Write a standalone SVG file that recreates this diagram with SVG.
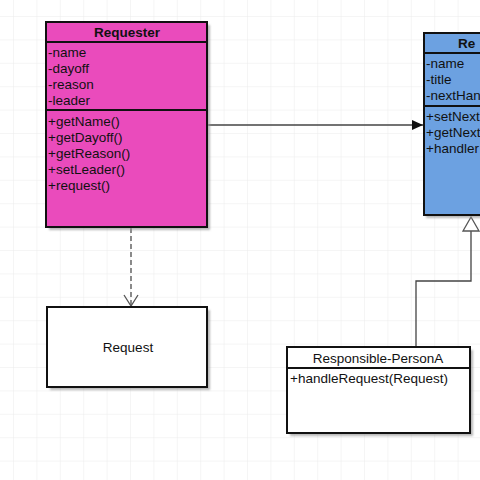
<svg xmlns="http://www.w3.org/2000/svg" width="480" height="480" viewBox="0 0 480 480">
<defs>
<pattern id="grid" x="13" y="16" width="23.4" height="23.4" patternUnits="userSpaceOnUse">
<path d="M0 0H23.4M0 0V23.4" fill="none" stroke="#ebebeb" stroke-width="1"/>
</pattern>
<marker id="filled" markerWidth="12" markerHeight="10" refX="11" refY="5" orient="auto" markerUnits="userSpaceOnUse">
<path d="M0 0L11 5L0 10Z" fill="#111"/>
</marker>
<filter id="sh" x="-10%" y="-10%" width="130%" height="130%">
<feGaussianBlur stdDeviation="1.2"/>
</filter>
</defs>
<style>
text{font-family:"Liberation Sans",Arial,sans-serif;font-size:13.5px;fill:#111}
.t{font-weight:bold}
.box{stroke:#111;stroke-width:2}
.shadow{fill:#999;opacity:0.7;filter:url(#sh)}
.sep{stroke:#111;stroke-width:2}
.conn{fill:none;stroke:#444;stroke-width:1.3}
</style>
<rect width="480" height="480" fill="#fff"/>
<rect width="480" height="480" fill="url(#grid)"/>

<g id="connectors">
<line class="conn" x1="208" y1="125" x2="423" y2="125" marker-end="url(#filled)"/>
<line x1="131" y1="228" x2="131" y2="306" fill="none" stroke="#666" stroke-width="1.5" stroke-dasharray="5,3"/>
<path d="M124 295L131 306L138 295" fill="none" stroke="#555" stroke-width="1.3"/>
<path class="conn" d="M416 346V281H471V230"/>
<path d="M463 231L471 217L479 231Z" fill="#fff" stroke="#555" stroke-width="1.3"/>
</g>

<g id="requester">
<rect class="shadow" x="49" y="25" width="161" height="205"/>
<rect class="box" x="46" y="22" width="161" height="205" fill="#ea4bbc"/>
<line class="sep" x1="46" y1="42" x2="207" y2="42"/>
<line class="sep" x1="46" y1="110" x2="207" y2="110"/>
<text class="t" x="127" y="37" text-anchor="middle">Requester</text>
<text x="48" y="57">-name</text>
<text x="48" y="73">-dayoff</text>
<text x="48" y="89">-reason</text>
<text x="48" y="105">-leader</text>
<text x="48" y="126">+getName()</text>
<text x="48" y="142">+getDayoff()</text>
<text x="48" y="158">+getReason()</text>
<text x="48" y="174">+setLeader()</text>
<text x="48" y="190">+request()</text>
</g>

<g id="responsible">
<rect class="shadow" x="426" y="36" width="80" height="182"/>
<rect class="box" x="424" y="33" width="80" height="182" fill="#6ca1e1"/>
<line class="sep" x1="424" y1="53" x2="504" y2="53"/>
<line class="sep" x1="424" y1="106" x2="504" y2="106"/>
<text class="t" x="458" y="48">Re</text>
<text x="426" y="68">-name</text>
<text x="426" y="84">-title</text>
<text x="426" y="100">-nextHan</text>
<text x="426" y="121">+setNext</text>
<text x="426" y="137">+getNext</text>
<text x="426" y="153">+handler</text>
</g>

<g id="request">
<rect class="shadow" x="50" y="310" width="160" height="80"/>
<rect class="box" x="47" y="307" width="160" height="80" fill="#fff"/>
<text x="128" y="352" text-anchor="middle">Request</text>
</g>

<g id="personA">
<rect class="shadow" x="290" y="350" width="183" height="86"/>
<rect class="box" x="287" y="347" width="183" height="86" fill="#fff"/>
<line class="sep" x1="287" y1="368" x2="470" y2="368"/>
<text x="378" y="363" text-anchor="middle">Responsible-PersonA</text>
<text x="290" y="383">+handleRequest(Request)</text>
</g>
</svg>
